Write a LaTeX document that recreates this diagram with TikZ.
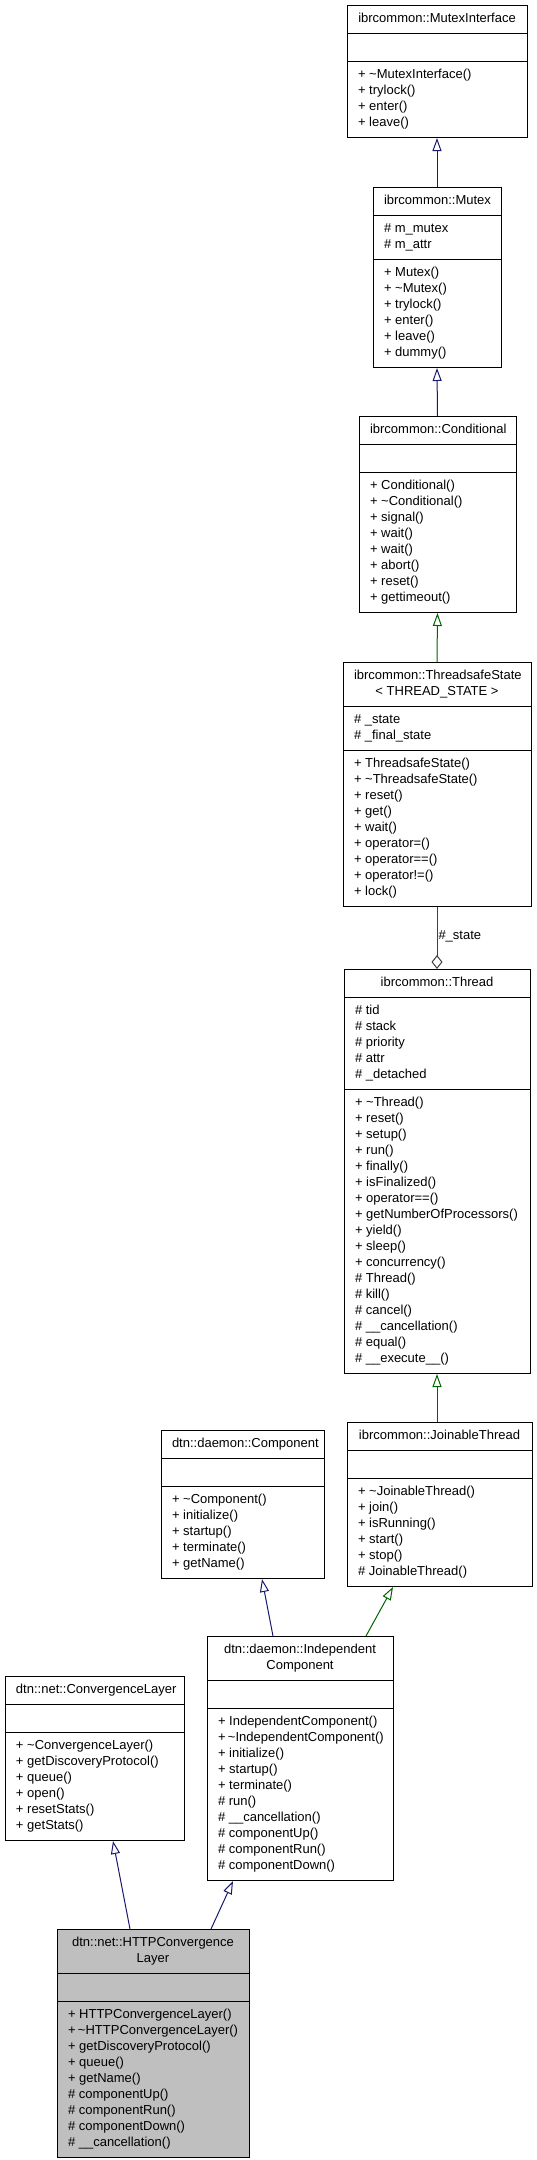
\documentclass[tikz,border=0pt]{standalone}
\usepackage{fontspec}
\setmainfont{Liberation Sans}
\usetikzlibrary{shapes.multipart,arrows.meta}
\setlength{\parindent}{0pt}
\hyphenpenalty=10000
\exhyphenpenalty=10000

\definecolor{blu}{RGB}{25,25,112}
\definecolor{verde}{RGB}{0,100,0}
\definecolor{grigio}{RGB}{64,64,64}

\tikzset{
  classe/.style={rectangle split, rectangle split parts=3, draw, line width=1pt,
    fill=white, anchor=north, inner xsep=11pt, inner ysep=5.5pt, align=flush left,
    font=\fontsize{13}{16}\selectfont},
  pubblica/.style={draw=blu, line width=1pt, -{Triangle[open,width=9pt,length=13pt]}},
  protetta/.style={draw=verde, line width=1pt, -{Triangle[open,width=9pt,length=13pt]}},
  membro/.style={draw=grigio, line width=1pt, -{Diamond[open,width=11pt,length=14pt]}}
}

\begin{document}
\begin{tikzpicture}[x=1pt, y=-1pt]

\useasboundingbox (0,0) rectangle (536,2160);

% classi ibrcommon
\node[classe, text width=158pt] (mi) at (437,5) {\parbox[t]{\hsize}{\centering\strut ibrcommon::MutexInterface\strut}
  \nodepart{two}\strut
  \nodepart{three}\strut +~\textasciitilde MutexInterface()\\ +~trylock()\\ +~enter()\\ +~leave()\strut};

\node[classe, text width=106pt] (mutex) at (437,187) {\parbox[t]{\hsize}{\centering\strut ibrcommon::Mutex\strut}
  \nodepart{two}\strut \#~m\_mutex\\ \#~m\_attr\strut
  \nodepart{three}\strut +~Mutex()\\ +~\textasciitilde Mutex()\\ +~trylock()\\ +~enter()\\ +~leave()\\ +~dummy()\strut};

\node[classe, text width=135pt] (cond) at (437.5,416) {\parbox[t]{\hsize}{\centering\strut ibrcommon::Conditional\strut}
  \nodepart{two}\strut
  \nodepart{three}\strut +~Conditional()\\ +~\textasciitilde Conditional()\\ +~signal()\\ +~wait()\\ +~wait()\\ +~abort()\\ +~reset()\\ +~gettimeout()\strut};

\node[classe, text width=166pt] (tss) at (437,662) {\parbox[t]{\hsize}{\centering\strut ibrcommon::ThreadsafeState\\ <~THREAD\_STATE~>\strut}
  \nodepart{two}\strut \#~\_state\\ \#~\_final\_state\strut
  \nodepart{three}\strut +~ThreadsafeState()\\ +~\textasciitilde ThreadsafeState()\\ +~reset()\\ +~get()\\ +~wait()\\ +~operator=()\\ +~operator==()\\ +~operator!=()\\ +~lock()\strut};

\node[classe, text width=164pt] (thread) at (437,969) {\parbox[t]{\hsize}{\centering\strut ibrcommon::Thread\strut}
  \nodepart{two}\strut \#~tid\\ \#~stack\\ \#~priority\\ \#~attr\\ \#~\_detached\strut
  \nodepart{three}\strut +~\textasciitilde Thread()\\ +~reset()\\ +~setup()\\ +~run()\\ +~finally()\\ +~isFinalized()\\ +~operator==()\\ +~getNumberOfProcessors()\\ +~yield()\\ +~sleep()\\ +~concurrency()\\ \#~Thread()\\ \#~kill()\\ \#~cancel()\\ \#~\_\_cancellation()\\ \#~equal()\\ \#~\_\_execute\_\_()\strut};

\node[classe, text width=163pt] (jt) at (439.5,1422) {\parbox[t]{\hsize}{\centering\strut ibrcommon::JoinableThread\strut}
  \nodepart{two}\strut
  \nodepart{three}\strut +~\textasciitilde JoinableThread()\\ +~join()\\ +~isRunning()\\ +~start()\\ +~stop()\\ \#~JoinableThread()\strut};

% classi dtn
\node[classe, text width=141pt] (comp) at (242.5,1430) {\parbox[t]{\hsize}{\centering\strut dtn::daemon::Component\strut}
  \nodepart{two}\strut
  \nodepart{three}\strut +~\textasciitilde Component()\\ +~initialize()\\ +~startup()\\ +~terminate()\\ +~getName()\strut};

\node[classe, text width=157pt] (cl) at (94.5,1676) {\parbox[t]{\hsize}{\centering\strut dtn::net::ConvergenceLayer\strut}
  \nodepart{two}\strut
  \nodepart{three}\strut +~\textasciitilde ConvergenceLayer()\\ +~getDiscoveryProtocol()\\ +~queue()\\ +~open()\\ +~resetStats()\\ +~getStats()\strut};

\node[classe, text width=164pt] (ic) at (300,1636) {\parbox[t]{\hsize}{\centering\strut dtn::daemon::Independent\\ Component\strut}
  \nodepart{two}\strut
  \nodepart{three}\strut +~IndependentComponent()\\ +~\textasciitilde IndependentComponent()\\ +~initialize()\\ +~startup()\\ +~terminate()\\ \#~run()\\ \#~\_\_cancellation()\\ \#~componentUp()\\ \#~componentRun()\\ \#~componentDown()\strut};

\node[classe, text width=170pt, fill=black!25] (http) at (153,1929) {\parbox[t]{\hsize}{\centering\strut dtn::net::HTTPConvergence\\ Layer\strut}
  \nodepart{two}\strut
  \nodepart{three}\strut +~HTTPConvergenceLayer()\\ +~\textasciitilde HTTPConvergenceLayer()\\ +~getDiscoveryProtocol()\\ +~queue()\\ +~getName()\\ \#~componentUp()\\ \#~componentRun()\\ \#~componentDown()\\ \#~\_\_cancellation()\strut};

% ereditarieta
\draw[pubblica] (mutex.north) -- (mi.south);
\draw[pubblica] (cond.north) -- (mutex.south);
\draw[protetta] (tss.north) -- (cond.south);
\draw[protetta] ([xshift=-2.5pt]jt.north) -- (thread.south);
\draw[pubblica] ([xshift=-27pt]ic.north) -- ([xshift=19.5pt]comp.south);
\draw[protetta] ([xshift=66pt]ic.north) -- ([xshift=-46.5pt]jt.south);
\draw[pubblica] ([xshift=-23pt]http.north) -- ([xshift=18.5pt]cl.south);
\draw[pubblica] ([xshift=58pt]http.north) -- ([xshift=-67pt]ic.south);

% membro
\draw[membro] (tss.south) -- node[pos=0.48, anchor=west, inner sep=1pt, font=\fontsize{13}{16}\selectfont] {\#\_state} (thread.north);

\end{tikzpicture}
\end{document}
